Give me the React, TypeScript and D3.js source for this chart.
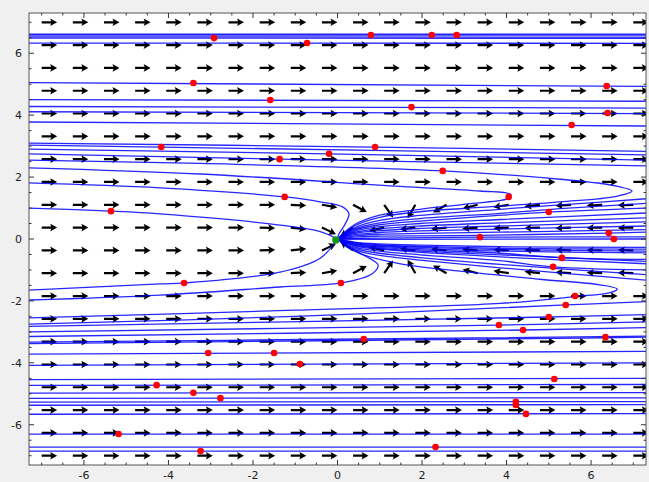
import React from "react";
import * as d3 from "d3";

type Pt = [number, number];

// axis labels
const xTicks = [-6, -4, -2, 0, 2, 4, 6];
const yTicks = [-6, -4, -2, 0, 2, 4, 6];

// quiver grid
const gridX = [-7, -6.263, -5.526, -4.789, -4.053, -3.316, -2.579, -1.842, -1.105, -0.368, 0.368, 1.105, 1.842, 2.579, 3.316, 4.053, 4.789, 5.526, 6.263, 7];
const gridY = [-7, -6.263, -5.526, -4.789, -4.053, -3.316, -2.579, -1.842, -1.105, -0.368, 0.368, 1.105, 1.842, 2.579, 3.316, 4.053, 4.789, 5.526, 6.263, 7];

// arrows that do not point straight right: [x, y, angle in degrees]
const bentArrows: [number, number, number][] = [
  [-1.105, 1.105, -3], [-0.368, 1.105, -10], [0.368, 1.105, -28], [1.105, 1.105, -55],
  [1.842, 1.105, -120], [2.579, 1.105, -150], [3.316, 1.105, -166], [4.053, 1.105, -171],
  [4.789, 1.105, -174], [5.526, 1.105, -176], [6.263, 1.105, -177], [7, 1.105, -178],
  [-1.842, 0.368, -2], [-1.105, 0.368, -6], [-0.368, 0.368, -25], [0.368, 0.368, -145],
  [1.105, 0.368, -168], [1.842, 0.368, -173], [2.579, 0.368, -175], [3.316, 0.368, -176],
  [4.053, 0.368, -177], [4.789, 0.368, -178], [5.526, 0.368, -178], [6.263, 0.368, -179], [7, 0.368, -179],
  [-1.842, -0.368, 2], [-1.105, -0.368, 6], [-0.368, -0.368, 25], [0.368, -0.368, 145],
  [1.105, -0.368, 168], [1.842, -0.368, 173], [2.579, -0.368, 175], [3.316, -0.368, 176],
  [4.053, -0.368, 177], [4.789, -0.368, 178], [5.526, -0.368, 178], [6.263, -0.368, 179], [7, -0.368, 179],
  [-1.105, -1.105, 3], [-0.368, -1.105, 10], [0.368, -1.105, 28], [1.105, -1.105, 55],
  [1.842, -1.105, 120], [2.579, -1.105, 150], [3.316, -1.105, 166], [4.053, -1.105, 171],
  [4.789, -1.105, 174], [5.526, -1.105, 176], [6.263, -1.105, 177], [7, -1.105, 178],
];

// trajectories far above the axis
const upperLines: Pt[][] = [
  [[-7.3, 6.62], [7.3, 6.62]],
  [[-7.3, 6.59], [7.3, 6.59]],
  [[-7.3, 6.53], [7.3, 6.52]],
  [[-7.3, 6.49], [7.3, 6.48]],
  [[-7.3, 6.33], [7.3, 6.32]],
  [[-7.3, 5.05], [7.3, 4.93]],
  [[-7.3, 4.5], [7.3, 4.45]],
  [[-7.3, 4.28], [7.3, 4.23]],
  [[-7.3, 4.11], [7.3, 4.05]],
  [[-7.3, 3.78], [7.3, 3.65]],
  [[-7.3, 3.1], [0.89, 2.97], [7.3, 2.83]],
  [[-7.3, 3.03], [-4.18, 2.97], [7.3, 2.72]],
  [[-7.3, 2.9], [-0.2, 2.75], [7.3, 2.55]],
  [[-7.3, 2.75], [-1.37, 2.58], [7.3, 2.36]],
];

// trajectories that turn back towards the node
const turningLines: Pt[][] = [
  [[-7.3, 2.55], [-3.25, 2.44], [2.5, 2.2], [5.27, 1.93], [6.57, 1.72], [6.97, 1.55], [6.6, 1.38], [5.27, 1.2], [3.37, 1.02], [1.95, 0.88], [1.0, 0.7], [0.4, 0.42], [0, 0]],
  [[-7.3, 2.3], [-3.25, 2.1], [1.48, 1.7], [3.37, 1.55], [4.1, 1.44], [4.06, 1.32], [3.14, 1.14], [1.95, 0.96], [1.0, 0.77], [0.4, 0.46], [0, 0]],
  [[-7.3, 1.81], [-4.2, 1.65], [-1.24, 1.36], [-0.41, 1.2], [0.13, 1.03], [0.27, 0.81], [0.18, 0.48], [0.03, 0.15], [0, 0]],
  [[-7.3, 1.0], [-5.36, 0.9], [-4.2, 0.81], [-1.36, 0.45], [-0.41, 0.24], [0, 0]],
  [[-7.3, -1.65], [-4.2, -1.45], [-3.63, -1.42], [-1.36, -1.07], [-0.41, -0.62], [0, 0]],
  [[-7.3, -1.97], [-4.2, -1.81], [-1.36, -1.55], [0.08, -1.42], [0.82, -1.12], [0.96, -0.84], [0.7, -0.58], [0.22, -0.26], [0, 0]],
  [[-7.3, -2.55], [-1.0, -2.3], [3.85, -2.08], [5.62, -1.86], [6.45, -1.73], [6.62, -1.62], [6.21, -1.48], [4.79, -1.3], [2.9, -1.04], [1.5, -0.8], [0.6, -0.5], [0, 0]],
];

// trajectories entering the node from the right
const fanLines: Pt[][] = [
  [[0, 0], [0.4, 0.36], [1.0, 0.6], [1.95, 0.76], [3.85, 0.96], [5.27, 1.1], [7.3, 1.3]],
  [[0, 0], [0.4, 0.32], [1.0, 0.52], [1.95, 0.66], [3.85, 0.83], [5.27, 0.98], [7.3, 1.15]],
  [[0, 0], [0.4, 0.29], [1.0, 0.46], [1.95, 0.58], [3.37, 0.72], [5.0, 0.87], [7.3, 1.0]],
  [[0, 0], [0.4, 0.25], [1.0, 0.4], [1.95, 0.5], [3.85, 0.63], [7.3, 0.84]],
  [[0, 0], [0.4, 0.21], [1.0, 0.33], [1.95, 0.42], [3.85, 0.52], [7.3, 0.68]],
  [[0, 0], [0.4, 0.18], [1.0, 0.27], [1.95, 0.34], [3.85, 0.42], [7.3, 0.55]],
  [[0, 0], [0.4, 0.14], [1.0, 0.21], [1.95, 0.26], [3.85, 0.32], [7.3, 0.42]],
  [[0, 0], [0.4, 0.1], [1.0, 0.15], [1.95, 0.18], [3.85, 0.22], [7.3, 0.3]],
  [[0, 0], [0.4, 0.06], [1.0, 0.09], [3.37, 0.12], [6.42, 0.19], [7.3, 0.22]],
  [[0, 0], [1.0, 0.03], [3.37, 0.06], [7.3, 0.07]],
  [[0, 0], [1.0, -0.01], [6.54, 0.0], [7.3, 0.0]],
  [[0, 0], [0.4, -0.1], [1.0, -0.16], [1.95, -0.2], [3.85, -0.25], [7.3, -0.27]],
  [[0, 0], [0.4, -0.12], [1.0, -0.19], [1.95, -0.24], [3.85, -0.3], [7.3, -0.33]],
  [[0, 0], [0.4, -0.14], [1.0, -0.21], [1.95, -0.27], [3.85, -0.34], [7.3, -0.39]],
  [[0, 0], [0.4, -0.16], [1.0, -0.24], [1.95, -0.31], [3.85, -0.39], [7.3, -0.45]],
  [[0, 0], [0.4, -0.18], [1.0, -0.27], [1.95, -0.35], [3.85, -0.46], [5.31, -0.61], [7.3, -0.66]],
  [[0, 0], [0.4, -0.2], [1.0, -0.3], [1.95, -0.39], [3.85, -0.51], [7.3, -0.72]],
  [[0, 0], [0.4, -0.22], [1.0, -0.33], [1.95, -0.43], [3.85, -0.58], [7.3, -0.8]],
  [[0, 0], [0.4, -0.26], [1.0, -0.39], [1.95, -0.51], [3.85, -0.7], [5.1, -0.9], [7.3, -1.0]],
  [[0, 0], [0.4, -0.3], [1.0, -0.46], [1.95, -0.6], [3.85, -0.82], [7.3, -1.15]],
  [[0, 0], [0.4, -0.34], [1.0, -0.53], [1.95, -0.68], [3.85, -0.93], [7.3, -1.33]],
];

// trajectories below the axis
const lowerLines: Pt[][] = [
  [[-7.3, -2.75], [-1.0, -2.5], [5.41, -2.13], [7.3, -2.02]],
  [[-7.3, -2.82], [5.0, -2.52], [7.3, -2.44]],
  [[-7.3, -3.0], [3.82, -2.78], [7.3, -2.68]],
  [[-7.3, -3.15], [4.39, -2.94], [7.3, -2.86]],
  [[-7.3, -3.33], [0.62, -3.23], [7.3, -3.14]],
  [[-7.3, -3.38], [6.34, -3.19], [7.3, -3.17]],
  [[-7.3, -3.72], [7.3, -3.63]],
  [[-7.3, -4.08], [7.3, -4.0]],
  [[-7.3, -4.54], [7.3, -4.5]],
  [[-7.3, -4.73], [7.3, -4.7]],
  [[-7.3, -4.98], [7.3, -4.96]],
  [[-7.3, -5.15], [7.3, -5.13]],
  [[-7.3, -5.27], [7.3, -5.25]],
  [[-7.3, -5.37], [7.3, -5.35]],
  [[-7.3, -5.66], [7.3, -5.64]],
  [[-7.3, -6.3], [7.3, -6.3]],
  [[-7.3, -6.72], [7.3, -6.72]],
  [[-7.3, -6.85], [7.3, -6.85]],
];

// starting points (red) and the node (green)
const seeds: Pt[] = [
  [-2.92, 6.49], [-0.72, 6.33], [0.79, 6.59], [2.23, 6.59], [2.82, 6.59],
  [-3.41, 5.04], [6.37, 4.94], [-1.59, 4.49], [1.75, 4.26], [6.39, 4.07], [5.54, 3.68],
  [-4.17, 2.97], [0.89, 2.97], [-0.2, 2.75], [-1.37, 2.58], [2.49, 2.2],
  [4.05, 1.36], [-1.25, 1.36], [-5.36, 0.9], [5.0, 0.87],
  [3.37, 0.06], [6.42, 0.19], [6.54, 0.0], [5.31, -0.61], [5.1, -0.9],
  [-3.63, -1.42], [0.08, -1.42], [5.62, -1.84], [5.4, -2.13], [5.0, -2.52],
  [3.82, -2.78], [4.39, -2.94], [6.34, -3.17], [0.62, -3.23],
  [-3.06, -3.68], [-1.5, -3.68], [-0.89, -4.04], [5.13, -4.52],
  [-4.28, -4.72], [-3.41, -4.97], [-2.77, -5.14], [4.22, -5.26], [4.22, -5.36], [4.46, -5.65],
  [-5.18, -6.3], [2.32, -6.72], [-3.24, -6.85],
];
const node: Pt = [-0.04, -0.03];

const W = 649;
const H = 482;
const left = 29, right = 646, top = 13, bottom = 465;

export default function App() {
  const x = d3.scaleLinear().domain([-7.3, 7.3]).range([left, right]);
  const y = d3.scaleLinear().domain([-7.3, 7.3]).range([bottom, top]);
  const line = d3.line<Pt>().x((d) => x(d[0])).y((d) => y(d[1])).curve(d3.curveCatmullRom.alpha(0.5));

  const angleOf = new Map<string, number>();
  bentArrows.forEach(([ax, ay, a]) => angleOf.set(`${ax},${ay}`, a));

  // quiver arrow in pixels, tail at origin, pointing right
  const L = 15.5, w = 1.1, hw = 3.8, hl = 7, ha = 6;
  const arrowPath = `M0,${-w}L${L - ha},${-w}L${L - hl},${-hw}L${L},0L${L - hl},${hw}L${L - ha},${w}L0,${w}Z`;

  const minor = d3.range(-7, 7.01, 0.5).filter((t) => Math.abs(t % 2) !== 0);
  const allLines = [...upperLines, ...turningLines, ...fanLines, ...lowerLines];

  return (
    <svg width={W} height={H} style={{ position: "absolute", left: 0, top: 0, fontFamily: "DejaVu Sans, sans-serif" }}>
      <rect x={0} y={0} width={W} height={H} fill="#f0f0f0" />
      <defs>
        <clipPath id="plot-clip">
          <rect x={left} y={top} width={right - left} height={bottom - top} />
        </clipPath>
      </defs>
      <rect x={left} y={top} width={right - left} height={bottom - top} fill="#fff" />
      <g clipPath="url(#plot-clip)">
        {gridY.map((gy) =>
          gridX.map((gx) => {
            const a = angleOf.get(`${gx},${gy}`) ?? 0;
            return (
              <path
                key={`${gx}_${gy}`}
                d={arrowPath}
                fill="#000"
                transform={`translate(${x(gx)},${y(gy)}) rotate(${-a})`}
              />
            );
          })
        )}
        {allLines.map((pts, i) => (
          <path key={i} d={line(pts) ?? ""} fill="none" stroke="#0000ff" strokeWidth={1.3} strokeOpacity={0.85} />
        ))}
        {seeds.map((p, i) => (
          <circle key={i} cx={x(p[0])} cy={y(p[1])} r={3.3} fill="#ff0000" />
        ))}
        <circle cx={x(node[0])} cy={y(node[1])} r={3.6} fill="#119911" />
      </g>
      <rect x={left} y={top} width={right - left} height={bottom - top} fill="none" stroke="#555" strokeWidth={1} />
      {/* ticks on all four sides, pointing inward */}
      {xTicks.map((t) => (
        <g key={`xt${t}`}>
          <line x1={x(t)} x2={x(t)} y1={bottom} y2={bottom - 5} stroke="#333" />
          <line x1={x(t)} x2={x(t)} y1={top} y2={top + 5} stroke="#333" />
          <text x={x(t)} y={bottom + 14} textAnchor="middle" fontSize={11} fill="#222">
            {t}
          </text>
        </g>
      ))}
      {minor.map((t) => (
        <g key={`xm${t}`}>
          <line x1={x(t)} x2={x(t)} y1={bottom} y2={bottom - 2.5} stroke="#333" />
          <line x1={x(t)} x2={x(t)} y1={top} y2={top + 2.5} stroke="#333" />
          <line y1={y(t)} y2={y(t)} x1={left} x2={left + 2.5} stroke="#333" />
          <line y1={y(t)} y2={y(t)} x1={right} x2={right - 2.5} stroke="#333" />
        </g>
      ))}
      {yTicks.map((t) => (
        <g key={`yt${t}`}>
          <line y1={y(t)} y2={y(t)} x1={left} x2={left + 5} stroke="#333" />
          <line y1={y(t)} y2={y(t)} x1={right} x2={right - 5} stroke="#333" />
          <text x={left - 7} y={y(t)} dy="0.35em" textAnchor="end" fontSize={11} fill="#222">
            {t}
          </text>
        </g>
      ))}
    </svg>
  );
}
